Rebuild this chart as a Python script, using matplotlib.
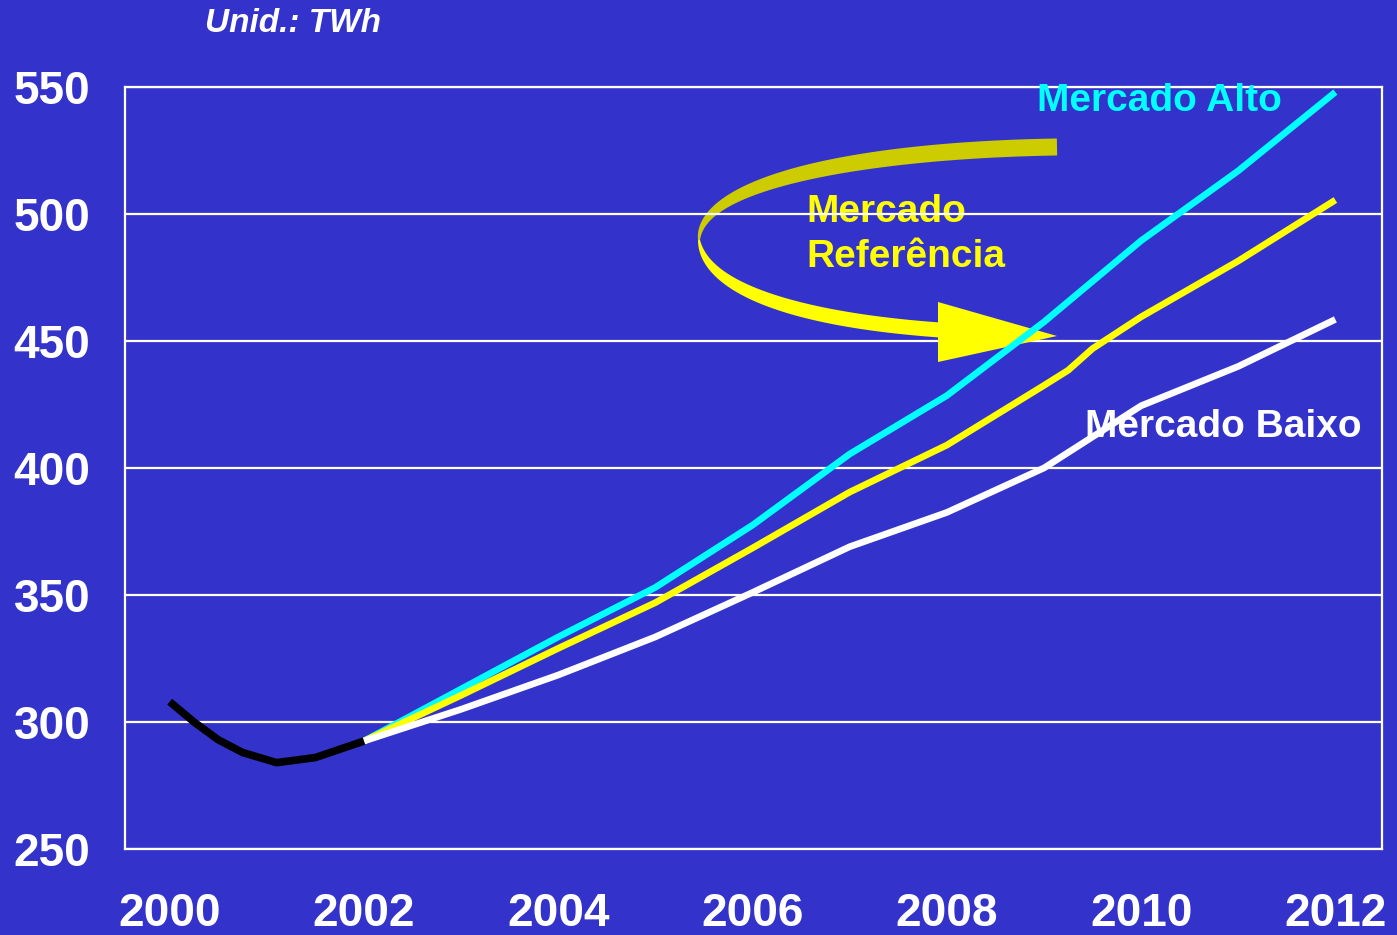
import numpy as np
import matplotlib.pyplot as plt
from matplotlib.patches import Polygon
from matplotlib import transforms

plt.rcParams['font.family'] = ['Liberation Sans', 'DejaVu Sans']

# consumo de energia - histórico e cenários de mercado (TWh)
anos_hist = [2000, 2000.25, 2000.5, 2000.75, 2001.1, 2001.5, 2002]
historico = [308, 300, 293, 288, 284, 286, 292.5]

anos = [2002, 2003, 2004, 2005, 2006, 2007, 2008, 2009, 2010, 2011, 2012]
mercado_alto = [292.5, 313, 333.5, 353, 377.5, 405.5, 428.5, 457.5, 489.5, 517, 548]
mercado_baixo = [292.5, 305, 318.5, 333.5, 351, 369, 382.5, 400, 424.5, 440, 458.5]

anos_ref = [2002, 2003, 2004, 2005, 2006, 2007, 2008, 2009, 2009.25, 2009.5, 2010, 2011, 2012]
mercado_ref = [292.5, 310.5, 329, 347, 368.5, 390.5, 409, 432.5, 438.5, 447, 459.5, 481.5, 505.5]

x_ticks = [2000, 2002, 2004, 2006, 2008, 2010, 2012]
y_ticks = [250, 300, 350, 400, 450, 500, 550]

azul = '#3333CC'
ciano = '#00FFFF'
amarelo = '#FFFF00'
oliva = '#CCCC00'

W, H = 1397, 935
fig = plt.figure(figsize=(W / 100, H / 100), dpi=100, facecolor=azul)
ax = fig.add_axes([125 / W, 86 / H, 1257 / W, 762 / H], facecolor=azul)

ax.plot(anos, mercado_alto, color=ciano, lw=4.8, zorder=3, solid_capstyle='butt')
ax.plot(anos_ref, mercado_ref, color=amarelo, lw=4.8, zorder=3, solid_capstyle='butt')
ax.plot(anos, mercado_baixo, color='white', lw=4.8, zorder=3, solid_capstyle='butt')
ax.plot(anos_hist, historico, color='black', lw=5.5, zorder=3, solid_capstyle='butt')

ax.set_xlim(1999.54, 2012.48)
ax.set_ylim(250, 550)
ax.set_xticks(x_ticks)
ax.set_yticks(y_ticks)
ax.tick_params(axis='both', length=0, colors='white', labelsize=33)
ax.tick_params(axis='x', pad=31)
ax.tick_params(axis='y', pad=25)
for lbl in ax.get_xticklabels() + ax.get_yticklabels():
    lbl.set_fontweight('bold')

ax.set_axisbelow('line')
ax.grid(axis='y', color='white', lw=1.6)
for s in ax.spines.values():
    s.set_color('white')
    s.set_linewidth(1.6)

# rótulos das séries
ax.text(2008.93, 540.5, 'Mercado Alto', color=ciano, fontsize=28, fontweight='bold', va='baseline')
ax.text(2009.42, 412.2, 'Mercado Baixo', color='white', fontsize=28, fontweight='bold', va='baseline', zorder=4)
ax.text(2006.55, 496.9, 'Mercado', color=amarelo, fontsize=28, fontweight='bold', va='baseline', zorder=1.2)
ax.text(2006.55, 479.1, 'Referência', color=amarelo, fontsize=28, fontweight='bold', va='baseline', zorder=1.2)

fig.text(205 / W, 1 - 32 / H, 'Unid.: TWh', color='white', fontsize=24,
         fontweight='bold', style='italic', va='baseline')

# seta curva (em pixels da figura)
px = transforms.Affine2D().scale(1 / W, -1 / H).translate(0, 1) + fig.transFigure


def bezier(p, t):
    p = np.asarray(p, float)
    t = t[:, None]
    return ((1 - t) ** 3 * p[0] + 3 * (1 - t) ** 2 * t * p[1]
            + 3 * (1 - t) * t ** 2 * p[2] + t ** 3 * p[3])


def faixa(p, larg):
    t = np.linspace(0, 1, 120)
    c = bezier(p, t)
    d = np.gradient(c, axis=0)
    n = np.column_stack([-d[:, 1], d[:, 0]])
    n /= np.linalg.norm(n, axis=1)[:, None]
    w = larg(t)[:, None] / 2
    return np.vstack([c + n * w, (c - n * w)[::-1]])


topo = faixa([(1057, 147), (870, 150), (700, 180), (699, 240)],
             lambda t: 2 + 15 * (1 - t ** 3))
baixo = faixa([(699, 240), (705, 290), (800, 320), (940, 330)],
              lambda t: 2 + 13 * (1 - (1 - t) ** 3))

ax.add_patch(Polygon(topo, closed=True, fc=oliva, ec='none', transform=px, clip_on=False, zorder=1))
ax.add_patch(Polygon(baixo, closed=True, fc=amarelo, ec='none', transform=px, clip_on=False, zorder=1))
ax.add_patch(Polygon([(938, 302), (1057, 336), (938, 362)], closed=True, fc=amarelo, ec='none',
                     transform=px, clip_on=False, zorder=2))

fig.savefig('out.png', dpi=100, facecolor=azul)
